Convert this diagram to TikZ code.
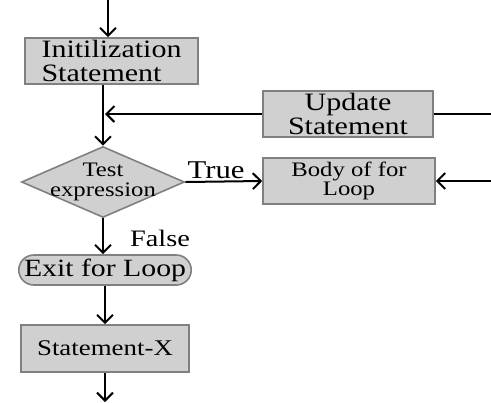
\documentclass[tikz,border=0pt]{standalone}
\usepackage{fontspec}
\setmainfont{Liberation Serif}[FakeStretch=1.2]
\usetikzlibrary{arrows.meta,shapes.geometric,shapes.misc}

\definecolor{boxfill}{RGB}{208,208,208}
\definecolor{boxline}{RGB}{128,128,128}

\begin{document}
\begin{tikzpicture}[x=0.5pt,y=-0.5pt,
    stepbox/.style={rectangle,draw=boxline,fill=boxfill,line width=0.8pt,inner sep=0pt,align=center},
    decision/.style={diamond,draw=boxline,fill=boxfill,line width=0.8pt,inner sep=0pt,minimum width=81.5pt,minimum height=35.5pt,aspect=2.3},
    flow/.style={line width=1pt,-{Straight Barb[length=4pt,width=8pt]}},
    bigtxt/.style={font=\fontsize{12.5}{11.8}\selectfont},
    smalltxt/.style={font=\fontsize{10.3}{9.8}\selectfont}]
    \useasboundingbox (0,0) rectangle (491,402);

    % Boxes
    \node[stepbox,bigtxt,align=left,minimum width=86.5pt,minimum height=23pt] (init) at (111.5,61) {Initilization\\Statement};
    \node[stepbox,bigtxt,minimum width=85pt,minimum height=23pt] (update) at (348,114) {Update\\Statement};
    \node[decision,label={[smalltxt,align=center]center:{Test\\expression}}] (test) at (103,182) {};
    \node[stepbox,smalltxt,minimum width=86pt,minimum height=23pt] (body) at (349,181) {Body of for\\Loop};
    \node[rounded rectangle,draw=boxline,fill=boxfill,line width=0.8pt,inner sep=0pt,font=\fontsize{12.4}{13}\selectfont,minimum width=86pt,minimum height=15pt] (exitloop) at (105,270) {Exit for Loop};
    \node[stepbox,font=\fontsize{11.2}{12}\selectfont,minimum width=84pt,minimum height=23.5pt] (stmtx) at (105,348.5) {Statement-X};

    % Free ends
    \coordinate (top) at (108,0);
    \coordinate (bottom) at (105,402);
    \coordinate (updin) at (491,114);
    \coordinate (bodyin) at (491,181);
    \coordinate (join) at (103,114);

    % Connectors
    \draw[flow] (top) -- (top |- init.north);
    \draw[line width=1pt] (init.south -| test.north) -- (join);
    \draw[flow] (join) -- (test.north);
    \draw[line width=1pt] (updin) -- (update.east);
    \draw[flow] (update.west) -- ([xshift=1pt]join);
    \draw[flow] (test.east) -- (body.west) node[pos=0.4,above,font=\fontsize{12.8}{13}\selectfont,inner sep=1pt] (truelbl) {True};
    \draw[flow] (bodyin) -- (body.east);
    \draw[flow] (test.south) -- (test.south |- exitloop.north);
    \node[font=\fontsize{11.8}{12}\selectfont] (falselbl) at (160,238) {False};
    \draw[flow] (exitloop.south) -- (stmtx.north);
    \draw[flow] (stmtx.south) -- (bottom);
\end{tikzpicture}
\end{document}
